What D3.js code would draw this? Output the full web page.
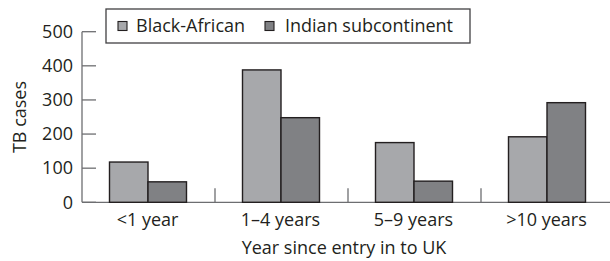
<!DOCTYPE html>
<html><head><meta charset="utf-8">
<script src="https://cdn.jsdelivr.net/npm/d3@7"></script>
<style>body{margin:0;background:#fff}svg{display:block}text{font-family:"Open Sans",sans-serif;fill:#231f20}</style>
</head><body><svg id="c" width="610" height="261"></svg>
<script>
const categories = ["<1 year", "1\u20134 years", "5\u20139 years", ">10 years"];
const seriesNames = ["Black-African", "Indian subcontinent"];
const blackAfrican = [118, 388, 175, 192];
const indianSub = [60, 248, 62, 292];
const yTicks = [0, 100, 200, 300, 400, 500];
const colors = ["#a7a8ab", "#808184"];
const fs = 18;

const svg = d3.select("#c");
const x0 = d3.scaleBand().domain(categories).range([82, 614]).paddingInner(0).paddingOuter(0);
const x1 = d3.scaleBand().domain(seriesNames).range([0, 77]);
const y = d3.scaleLinear().domain([0, 500]).range([202.3, 31.7]);
const axisColor = "#6d6e71";

svg.append("line").attr("x1", 82).attr("x2", 82).attr("y1", y(500)).attr("y2", y(0)).attr("stroke", axisColor).attr("stroke-width", 1.3);
const yg = svg.append("g");
yTicks.forEach(t => {
  yg.append("line").attr("x1", 82).attr("x2", 96).attr("y1", y(t)).attr("y2", y(t)).attr("stroke", axisColor).attr("stroke-width", 1.3);
  yg.append("text").attr("x", 73).attr("y", y(t)).attr("dy", "0.35em").attr("text-anchor", "end").attr("font-size", fs).text(t);
});

svg.append("line").attr("x1", 82).attr("x2", 614).attr("y1", y(0)).attr("y2", y(0)).attr("stroke", axisColor).attr("stroke-width", 1.3);
categories.slice(1).forEach(c => {
  svg.append("line").attr("x1", x0(c)).attr("x2", x0(c)).attr("y1", y(0)).attr("y2", y(0) - 14).attr("stroke", axisColor).attr("stroke-width", 1.3);
});

const data = categories.map((c, i) => ({c, vals: [blackAfrican[i], indianSub[i]]}));
const groups = svg.selectAll("g.grp").data(data).join("g").attr("class", "grp")
  .attr("transform", d => `translate(${x0(d.c) + x0.bandwidth() / 2 - 39},0)`);
groups.selectAll("rect").data(d => d.vals.map((v, j) => ({v, s: seriesNames[j], j})))
  .join("rect")
  .attr("x", d => x1(d.s)).attr("width", x1.bandwidth())
  .attr("y", d => y(d.v)).attr("height", d => y(0) - y(d.v))
  .attr("fill", d => colors[d.j]).attr("stroke", "#231f20").attr("stroke-width", 1.4);

categories.forEach(c => {
  svg.append("text").attr("x", x0(c) + x0.bandwidth() / 2 - 1).attr("y", 220).attr("dy", "0.35em").attr("text-anchor", "middle").attr("font-size", fs).text(c);
});
svg.append("text").attr("x", 344).attr("y", 248).attr("dy", "0.35em").attr("text-anchor", "middle").attr("font-size", fs).text("Year since entry in to UK");
svg.append("text").attr("transform", "translate(20,117) rotate(-90)").attr("dy", "0.35em").attr("text-anchor", "middle").attr("font-size", fs).text("TB cases");

svg.append("rect").attr("x", 106).attr("y", 9).attr("width", 364).attr("height", 34).attr("fill", "#fff").attr("stroke", "#414042").attr("stroke-width", 1.3);
const legX = [118, 265], legTextX = [136, 285];
seriesNames.forEach((s, j) => {
  svg.append("rect").attr("x", legX[j]).attr("y", 21.5).attr("width", 9).attr("height", 9).attr("fill", colors[j]).attr("stroke", "#231f20").attr("stroke-width", 1.1);
  svg.append("text").attr("x", legTextX[j]).attr("y", 26).attr("dy", "0.35em").attr("font-size", fs).text(s);
});
</script></body></html>
